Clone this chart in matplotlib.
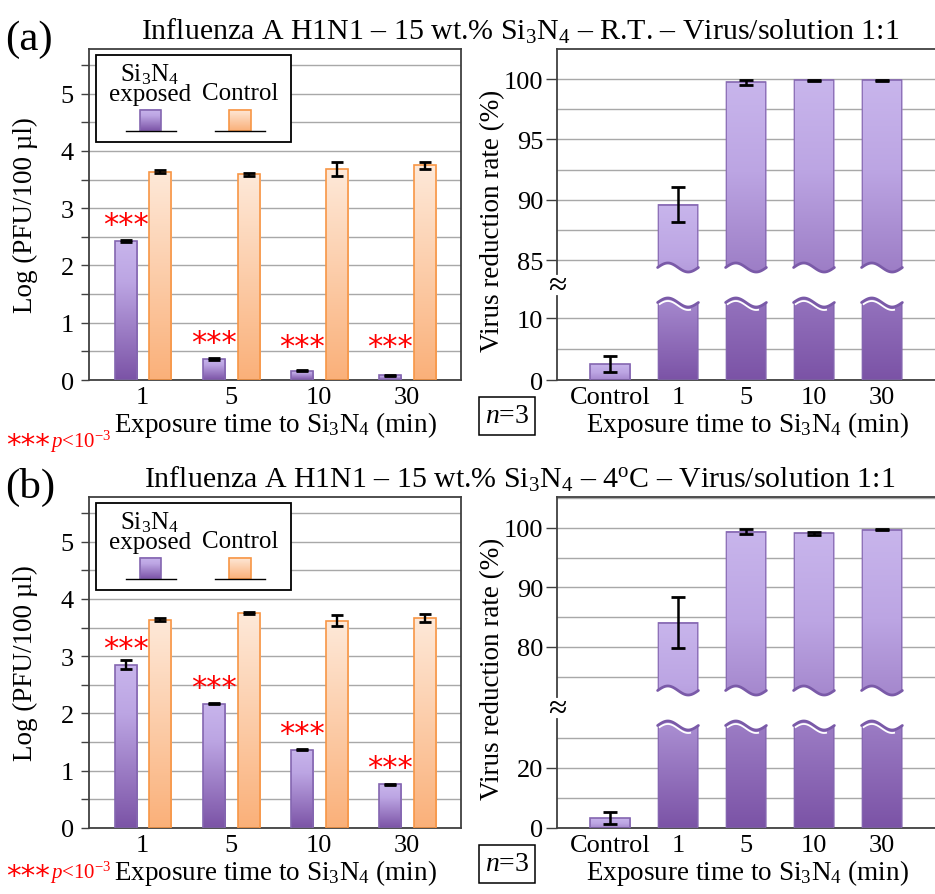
import numpy as np
import matplotlib
matplotlib.use('Agg')
import matplotlib.pyplot as plt
from matplotlib.patches import Polygon, Rectangle
from matplotlib.colors import LinearSegmentedColormap
from matplotlib.ticker import MultipleLocator, NullFormatter

plt.rcParams['font.family'] = ['Liberation Serif', 'DejaVu Serif']
plt.rcParams['mathtext.fontset'] = 'custom'
plt.rcParams['mathtext.rm'] = 'Liberation Serif'
plt.rcParams['mathtext.it'] = 'Liberation Serif:italic'

# ---------------- data ----------------
times = ['1', '5', '10', '30']
red_labels = ['Control', '1', '5', '10', '30']

# panel (a) - room temperature
a_exposed = [2.43, 0.37, 0.16, 0.08]
a_exposed_err = [0.02, 0.02, 0.01, 0.01]
a_control = [3.64, 3.59, 3.69, 3.75]
a_control_err = [0.02, 0.03, 0.12, 0.06]
a_reduction = [2.6, 89.6, 99.72, 99.88, 99.88]
a_reduction_err = [1.3, 1.45, 0.22, 0.05, 0.03]

# panel (b) - 4 oC
b_exposed = [2.85, 2.17, 1.37, 0.76]
b_exposed_err = [0.08, 0.01, 0.01, 0.01]
b_control = [3.64, 3.75, 3.62, 3.67]
b_control_err = [0.02, 0.02, 0.10, 0.07]
b_reduction = [3.2, 84.1, 99.4, 99.1, 99.7]
b_reduction_err = [2.0, 4.3, 0.5, 0.2, 0.1]

# ---------------- style ----------------
W, H = 935, 895
fig = plt.figure(figsize=(W / 100, H / 100), dpi=100)

purple_cmap = LinearSegmentedColormap.from_list(
    'pur', [(0, '#c8b5ec'), (0.3, '#bca5e3'), (1.0, '#7b53a6')])
orange_cmap = LinearSegmentedColormap.from_list(
    'ora', [(0, '#fee9d9'), (1.0, '#fab079')])
PUR_EDGE = '#8466b0'
ORA_EDGE = '#f79646'
GRID = '#a8a8a8'
SPINE = '#404040'
FS = 19


def px_axes(x0, y0, x1, y1):
    return fig.add_axes([x0 / W, 1 - y1 / H, (x1 - x0) / W, (y1 - y0) / H])


def ftext(x, y, s, **kw):
    return fig.text(x / W, 1 - y / H, s, **kw)


def style_spines(ax, sides=('left', 'bottom', 'top', 'right')):
    for k, sp in ax.spines.items():
        sp.set_color(SPINE)
        sp.set_linewidth(1.3)
        sp.set_visible(k in sides)


def grad_image(ax, x0, w, ylo, yhi, frac_fn, cmap, clip, z=2):
    N = 256
    ys = np.linspace(yhi, ylo, N)
    cols = cmap(np.clip(frac_fn(ys), 0, 1))
    im = ax.imshow(cols.reshape(N, 1, 4), extent=[x0, x0 + w, ylo, yhi],
                   origin='upper', aspect='auto', zorder=z,
                   interpolation='bilinear')
    im.set_clip_path(clip)
    return im


def left_panel(top, bottom, exposed, eerr, control, cerr):
    ax = px_axes(89, top, 461, bottom)
    x = np.arange(len(times))
    ax.set_xlim(-0.61, 3.61)
    ax.set_ylim(0, 5.78)
    ax.set_autoscale_on(False)
    w = 0.25
    ekw = dict(ecolor='black', elinewidth=1.7, capsize=4.5, capthick=2.0, zorder=5)
    be = ax.bar(x - 0.195, exposed, w, yerr=eerr, facecolor='none',
                edgecolor=PUR_EDGE, linewidth=1.2, zorder=3, error_kw=ekw)
    bc = ax.bar(x + 0.2, control, w, yerr=cerr, facecolor='none',
                edgecolor=ORA_EDGE, linewidth=1.2, zorder=3, error_kw=ekw)
    for bars, cmap in ((be, purple_cmap), (bc, orange_cmap)):
        for b in bars:
            h = b.get_height()
            grad_image(ax, b.get_x(), b.get_width(), 0, h,
                       lambda ys, h=h: (h - ys) / h, cmap, b)
    # significance stars
    for xi, v in zip(x, exposed):
        ax.text(xi - 0.195, max(v + 0.14, 0.44), '***', color='red',
                fontsize=22, family='DejaVu Sans', ha='center', va='baseline',
                zorder=6)
    ax.yaxis.set_major_locator(MultipleLocator(1))
    ax.yaxis.set_minor_locator(MultipleLocator(0.5))
    ax.yaxis.set_minor_formatter(NullFormatter())
    ax.grid(True, axis='y', which='both', color=GRID, lw=1.0)
    ax.set_axisbelow(True)
    ax.set_xticks(x)
    ax.set_xticklabels(times)
    ax.tick_params(axis='x', length=0, pad=4, labelsize=FS)
    ax.tick_params(axis='y', which='both', direction='out', length=6,
                   width=1.0, color=SPINE, pad=5, labelsize=FS)
    style_spines(ax)
    # legend (manual, text above swatches)
    ax.add_patch(Rectangle((0.019, 0.719), 0.524, 0.263, transform=ax.transAxes,
                           fc='white', ec='black', lw=1.3, zorder=7))
    ax.text(0.164, 0.897, 'Si$_3$N$_4$\nexposed', transform=ax.transAxes,
            ha='center', va='center', multialignment='center',
            linespacing=0.85, fontsize=18, zorder=8)
    ax.text(0.406, 0.866, 'Control', transform=ax.transAxes, ha='center',
            va='center', fontsize=18, zorder=8)
    for (sx0, sx1, lx0, lx1, cmap, ec) in (
            (0.137, 0.193, 0.099, 0.234, purple_cmap, PUR_EDGE),
            (0.376, 0.435, 0.339, 0.473, orange_cmap, ORA_EDGE)):
        r = Rectangle((sx0, 0.752), sx1 - sx0, 0.064, transform=ax.transAxes,
                      fc='none', ec=ec, lw=1.2, zorder=9)
        ax.add_patch(r)
        gi = np.linspace(0, 1, 64).reshape(-1, 1)
        ax.imshow(cmap(gi), extent=[sx0, sx1, 0.752, 0.816],
                  transform=ax.transAxes, origin='upper', aspect='auto',
                  zorder=8)
        ax.plot([lx0, lx1], [0.752, 0.752], transform=ax.transAxes,
                color='black', lw=1.0, zorder=9)
    ax.set_xlim(-0.61, 3.61)
    ax.set_ylim(0, 5.78)
    return ax


def right_panel(top, brk_top, brk_bot, bottom, up_lim, lo_lim, vals, errs,
                up_major, up_minor, lo_major, lo_minor):
    up = px_axes(557, top, 935, brk_top)
    lo = px_axes(557, brk_bot, 935, bottom)
    x = np.arange(len(red_labels))
    w = 0.6
    for ax, lim in ((up, up_lim), (lo, lo_lim)):
        ax.set_xlim(-0.78, 4.78)
        ax.set_ylim(*lim)
        ax.set_autoscale_on(False)
        ax.set_axisbelow(True)
    ekw = dict(ecolor='black', elinewidth=1.8, capsize=4.8, capthick=2.0, zorder=5)
    # control bar (lower part only)
    bctl = lo.bar(x[:1], vals[:1], w, yerr=errs[:1], facecolor='none',
                  edgecolor=PUR_EDGE, linewidth=1.2, zorder=3, error_kw=ekw)
    b = bctl[0]
    grad_image(lo, b.get_x(), w, 0, b.get_height(),
               lambda ys, h=b.get_height(): 0.55 * (h - ys) / h,
               purple_cmap, b)
    # treated bars drawn in both parts of the broken axis
    bu = up.bar(x[1:], vals[1:], w, yerr=errs[1:], facecolor='none',
                edgecolor=PUR_EDGE, linewidth=1.2, zorder=3, error_kw=ekw)
    bl = lo.bar(x[1:], vals[1:], w, facecolor='none', edgecolor=PUR_EDGE,
                linewidth=1.2, zorder=3)
    ppu_up = up.transData.transform((0, 1))[1] - up.transData.transform((0, 0))[1]
    ppu_lo = lo.transData.transform((0, 1))[1] - lo.transData.transform((0, 0))[1]
    A_px = 4.5
    t = np.linspace(0, 1, 80)
    bot_px = lo.transData.transform((0, 0))[1]
    for rb_u, rb_l, v in zip(bu, bl, vals[1:]):
        x0 = rb_u.get_x()
        top_px = up.transData.transform((0, v))[1]

        def frac(ax):
            def f(ys):
                px = ax.transData.transform(np.c_[np.zeros_like(ys), ys])[:, 1]
                return (top_px - px) / (top_px - bot_px)
            return f
        # upper piece with wavy bottom
        A = A_px / ppu_up
        base = up_lim[0] + (A_px + 2.0) / ppu_up
        wx = x0 + t * w
        wy = base + A * np.sin(2 * np.pi * t)
        verts = [(x0, up_lim[1] + 50), (x0 + w, up_lim[1] + 50)] + \
            list(zip(wx[::-1], wy[::-1]))
        clip_u = Polygon(verts, closed=True, transform=up.transData)
        rb_u.set_clip_path(clip_u)
        grad_image(up, x0, w, up_lim[0], v, frac(up), purple_cmap, clip_u)
        up.plot(wx, wy, color='#7a5aa8', lw=2.0, zorder=4, solid_capstyle='round')
        # lower piece with wavy top
        A = A_px / ppu_lo
        base = lo_lim[1] - (A_px + 2.0) / ppu_lo
        wy = base + A * np.sin(2 * np.pi * t)
        verts = [(x0, -50), (x0 + w, -50)] + list(zip(wx[::-1], wy[::-1]))
        clip_l = Polygon(verts, closed=True, transform=lo.transData)
        rb_l.set_clip_path(clip_l)
        grad_image(lo, x0, w, 0, lo_lim[1], frac(lo), purple_cmap, clip_l)
        lo.plot(wx, wy, color='#7a5aa8', lw=2.0, zorder=4, solid_capstyle='round')
        hl = (t > 0.04) & (t < 0.8)
        lo.plot(wx[hl], wy[hl] - 3.0 / ppu_lo, color='white', lw=1.3, zorder=4)

    for ax, lim, mj, mn in ((up, up_lim, up_major, up_minor),
                            (lo, lo_lim, lo_major, lo_minor)):
        ax.yaxis.set_major_locator(MultipleLocator(mj))
        ax.yaxis.set_minor_locator(MultipleLocator(mn))
        ax.yaxis.set_minor_formatter(NullFormatter())
        ax.grid(True, axis='y', which='both', color=GRID, lw=1.0)
        ax.tick_params(axis='y', which='major', direction='out', length=8,
                       width=1.0, color=SPINE, pad=2, labelsize=FS)
        ax.tick_params(axis='y', which='minor', length=0)
        ax.set_xlim(-0.78, 4.78)
        ax.set_ylim(*lim)
    style_spines(up, ('left', 'top'))
    style_spines(lo, ('left', 'bottom'))
    up.set_xticks([])
    lo.set_xticks(x)
    lo.set_xticklabels(red_labels)
    lo.tick_params(axis='x', length=0, pad=4, labelsize=FS)
    return up, lo


def panel(dy, tag, cond, exposed, eerr, control, cerr, vals, errs,
          up_lim, lo_lim, brk, up_major, up_minor, lo_major, lo_minor, foot_y):
    top, bottom = 50 + dy, 381 + dy
    left_panel(top, bottom, exposed, eerr, control, cerr)
    right_panel(top, brk[0] + dy, brk[1] + dy, bottom, up_lim, lo_lim, vals, errs,
                up_major, up_minor, lo_major, lo_minor)
    ftext(5, 50 + dy, tag, fontsize=31, ha='left', va='baseline')
    ftext(520, 40 + dy, 'Influenza A H1N1 – 15 wt.% Si$_3$N$_4$ – ' + cond +
          ' – Virus/solution 1:1', fontsize=21.5, ha='center', va='baseline')
    ftext(25, 215 + dy, 'Log (PFU/100 µl)', rotation=90, fontsize=19.5,
          ha='center', va='center')
    ftext(493, 221 + dy, 'Virus reduction rate (%)', rotation=90, fontsize=19.5,
          ha='center', va='center')
    xl = 'Exposure time to Si$_3$N$_4$ (min)'
    ftext(275, 425 + dy, xl, fontsize=19.5, ha='center', va='center')
    ftext(747, 425 + dy, xl, fontsize=19.5, ha='center', va='center')
    ftext(507, 417 + dy, '$n$=3', fontsize=20, ha='center', va='center',
          bbox=dict(boxstyle='square,pad=0.22', fc='white', ec='black', lw=1.1))
    ftext(6, foot_y + 2, '***', color='red', fontsize=21, family='DejaVu Sans',
          ha='left', va='baseline')
    ftext(50, foot_y - 4, '$p$<10$^{-3}$', color='red', fontsize=15,
          ha='left', va='baseline')
    ftext(557, (brk[0] + brk[1]) / 2 + dy + 1, '≈', fontsize=24, ha='center',
          va='center')


panel(0, '(a)', 'R.T.', a_exposed, a_exposed_err, a_control, a_control_err,
      a_reduction, a_reduction_err, (83.84, 102.49), (0, 13.55), (275, 297),
      5, 2.5, 10, 5, 452)
panel(448, '(b)', '4$^{\\mathrm{o}}$C', b_exposed, b_exposed_err, b_control,
      b_control_err, b_reduction, b_reduction_err, (71.6, 105.2), (0, 36.3),
      (250, 272), 10, 5, 20, 10, 883)

fig.savefig('out.png', dpi=100)
